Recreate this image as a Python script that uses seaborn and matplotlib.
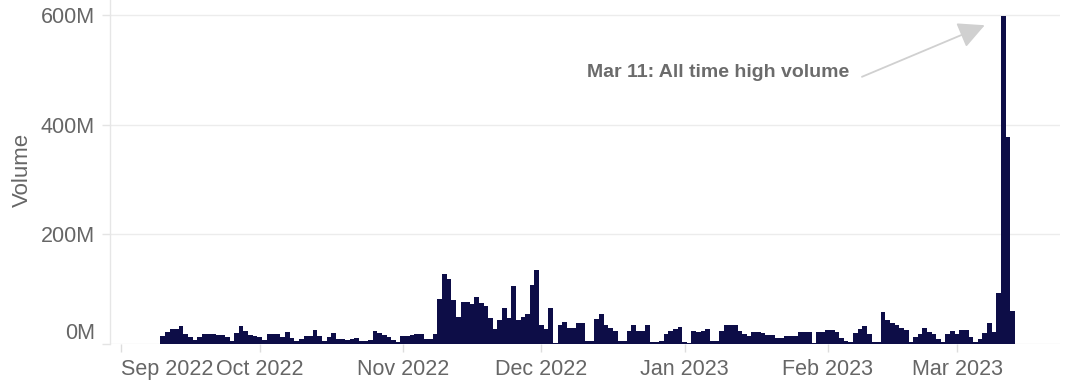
import numpy as np
import pandas as pd
import matplotlib
matplotlib.use("Agg")
import matplotlib.pyplot as plt
import matplotlib.dates as mdates
from matplotlib.ticker import FixedLocator, FuncFormatter
import seaborn as sns

# Daily trading volume in millions, one list per month (first day: 2022-09-10)
first_day = "2022-09-10"
vol_sep = [15, 22, 27, 28, 32, 18, 12, 7, 12, 19, 19, 19, 17, 17, 12, 6, 20, 32, 24, 17, 14]
vol_oct = [12, 7, 19, 19, 19, 12, 22, 11, 6, 10, 15, 15, 26, 14, 5, 12, 20, 10, 9, 8,
           10, 11, 5, 5, 8, 24, 20, 16, 12, 7, 4]
vol_nov = [14, 15, 17, 18, 18, 10, 10, 18, 82, 128, 118, 81, 50, 77, 77, 73, 86, 75, 69, 47,
           28, 44, 66, 47, 105, 44, 50, 54, 108, 134]
vol_dec = [34, 28, 66, 2, 35, 40, 30, 30, 38, 38, 6, 6, 46, 54, 35, 29, 24, 5, 5, 23,
           35, 23, 23, 35, 3, 3, 6, 18, 23, 27, 31]
vol_jan = [3, 2, 24, 22, 24, 28, 5, 5, 24, 34, 34, 34, 23, 18, 14, 21, 21, 20, 17, 17,
           11, 11, 15, 15, 15, 22, 22, 22, 1, 22, 22]
vol_feb = [25, 26, 22, 11, 6, 3, 20, 27, 32, 18, 3, 3, 58, 43, 38, 35, 30, 26, 3, 12,
           19, 29, 22, 19, 10, 3, 18, 23]
vol_mar = [19, 26, 26, 13, 3, 9, 20, 38, 22, 93, 598, 377, 61]

peak_label = "Mar 11: All time high volume"
y_ticks_m = [0, 200, 400, 600]

volume_m = vol_sep + vol_oct + vol_nov + vol_dec + vol_jan + vol_feb + vol_mar
dates = pd.date_range(first_day, periods=len(volume_m), freq="D")
df = pd.DataFrame({"date": mdates.date2num(dates), "volume": np.array(volume_m) * 1e6})

BAR = "#0d0d47"
TEXT = "#666666"
GRID = "#ececec"

sns.set_theme(style="white")
plt.rcParams["font.family"] = ["Liberation Sans", "DejaVu Sans"]

fig = plt.figure(figsize=(10.68, 3.84), dpi=100)
ax = fig.add_axes([110 / 1068, 40 / 384, 950 / 1068, 344 / 384])

sns.barplot(data=df, x="date", y="volume", native_scale=True, width=1.0,
            color=BAR, saturation=1, edgecolor="none", linewidth=0,
            antialiased=False, errorbar=None, ax=ax, zorder=3)

# axis ranges
x0 = mdates.date2num(pd.Timestamp("2022-09-01")) - 2.4
x1 = mdates.date2num(pd.Timestamp("2023-03-01")) + 22.3
ax.set_xlim(x0, x1)
ax.set_ylim(0, 627e6)

# y axis
ax.yaxis.set_major_locator(FixedLocator([v * 1e6 for v in y_ticks_m]))
ax.yaxis.set_major_formatter(FuncFormatter(lambda v, _: f"{v / 1e6:.0f}M"))
ax.grid(axis="y", color=GRID, linewidth=1.0, zorder=0)
ax.grid(axis="x", visible=False)
ax.set_ylabel("Volume", fontsize=16, color=TEXT)
ax.yaxis.set_label_coords(-0.081, 0.506)

# x axis: month starts
ax.xaxis.set_major_locator(mdates.MonthLocator())
ax.xaxis.set_major_formatter(mdates.DateFormatter("%b %Y"))
ax.set_xlabel("")

ax.tick_params(axis="x", length=6, width=1, color="#dddddd", labelsize=15.5,
               labelcolor=TEXT, pad=5, bottom=True)
ax.tick_params(axis="y", length=6, width=1, color="#e4e4e4", labelsize=15.5,
               labelcolor=TEXT, pad=5, left=True)

for side in ["top", "right", "bottom"]:
    ax.spines[side].set_visible(False)
ax.spines["left"].set_color("#e6e6e6")
ax.spines["left"].set_linewidth(1)

fig.canvas.draw()
xlabels = ax.get_xticklabels()
if xlabels:
    xlabels[0].set_ha("left")
ylabels = ax.get_yticklabels()
if ylabels:
    ylabels[0].set_va("bottom")

# annotation of the record day
ax.text(mdates.date2num(pd.Timestamp("2023-02-05 18:00")), 494e6, peak_label,
        ha="right", va="center", fontsize=14, fontweight="bold", color="#6b6b6b")
ax.annotate("", xy=(mdates.date2num(pd.Timestamp("2023-03-07")), 581e6),
            xytext=(mdates.date2num(pd.Timestamp("2023-02-08 10:00")), 487e6),
            arrowprops=dict(arrowstyle="-|>,head_length=0.9,head_width=0.45",
                            color="#d0d0d0", lw=1.3, shrinkA=0, shrinkB=0,
                            mutation_scale=18))

fig.savefig("out.png", dpi=100)
